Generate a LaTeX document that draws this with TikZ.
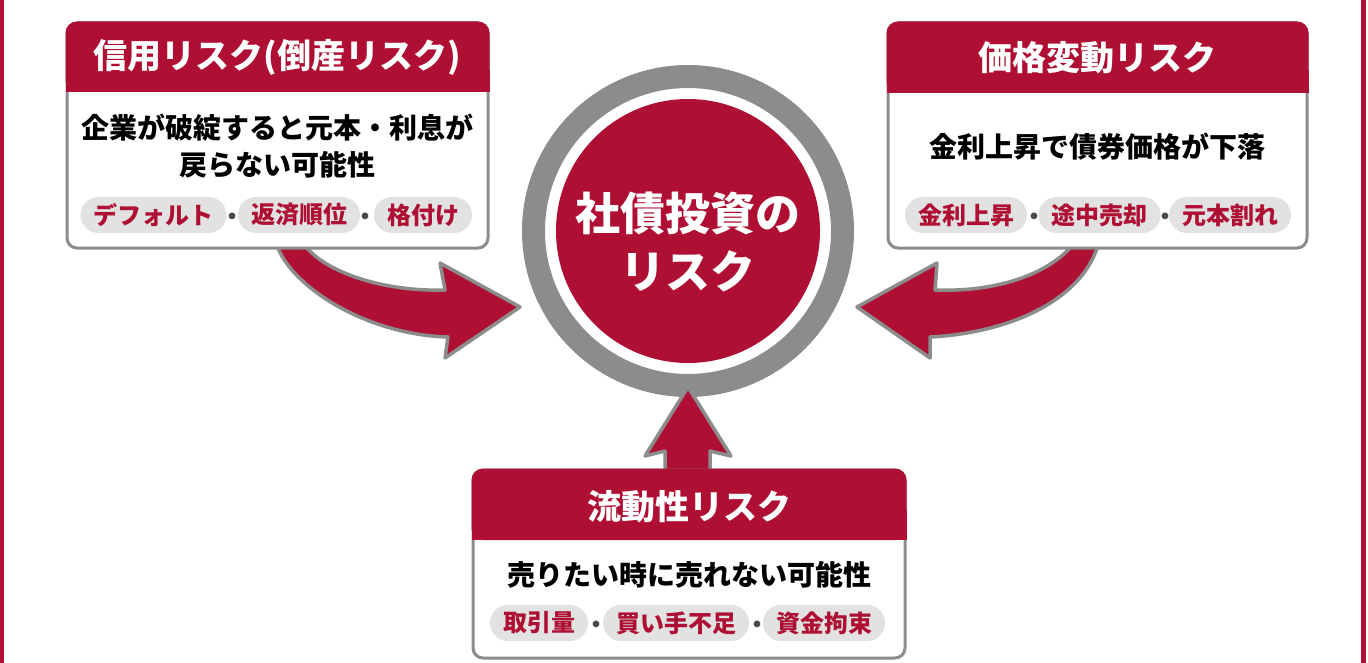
\documentclass[tikz,border=0pt]{standalone}
\usepackage{fontspec}
\setmainfont{Noto Sans CJK JP}
\usepackage{tikz}

\definecolor{riskred}{HTML}{AE0F32}
\definecolor{rimgray}{HTML}{8C8C8C}
\definecolor{pillgray}{HTML}{E2E2E2}
\definecolor{dotgray}{HTML}{4A4A4A}

\tikzset{
  card/.style={draw=rimgray,line width=3pt,fill=white,rounded corners=10pt,inner sep=0pt},
  headtext/.style={text=white,font=\fontsize{34}{40}\selectfont\bfseries},
  bodytext/.style={text=black,font=\fontsize{28}{37}\selectfont\bfseries,align=center},
  pill/.style={fill=pillgray,rounded corners=18pt,minimum height=36pt,inner xsep=13pt,inner ysep=0pt,text=riskred,font=\fontsize{24}{28}\selectfont\bfseries},
  middot/.style={text=dotgray,font=\fontsize{24}{28}\selectfont\bfseries,inner sep=0pt,yshift=-4pt},
  bigarrow/.style={fill=riskred,draw=rimgray,line width=3.5pt,line join=round},
}

\begin{document}
\begin{tikzpicture}[x=1pt,y=-1pt]
\useasboundingbox (0,0) rectangle (1368,663);
\fill[white] (0,0) rectangle (1368,663);
\fill[riskred] (0,0) rectangle (4,663);
\fill[riskred] (1361,0) rectangle (1366,663);

% centre
\node[circle,draw=rimgray,line width=23pt,minimum size=309pt,inner sep=0pt] (ring) at (688,231) {};
\node[circle,fill=riskred,minimum size=264pt,inner sep=0pt] (core) at (688,231) {};
\node[text=white,font=\fontsize{45}{58}\selectfont\bfseries,align=center] (coretext) at (688,242) {社債投資の\\リスク};

% arrows
\draw[bigarrow] (305,244) -- (307,248) .. controls (330,275) and (390,292) .. (445,290)
  -- (440,263) -- (520,307) -- (445,358) -- (448,337)
  .. controls (370,335) and (295,290) .. (278,248) -- (276,244) -- cycle;
\draw[bigarrow] (1071,244) -- (1070,248) .. controls (1040,280) and (985,292) .. (935,290)
  -- (937,263) -- (857,307) -- (930,358) -- (930,337)
  .. controls (1010,333) and (1080,300) .. (1097,248) -- (1098,244) -- cycle;
\draw[bigarrow] (665,480) -- (665,451) -- (645,456) -- (688,387) -- (731,456) -- (710,451) -- (710,480) -- cycle;

% credit risk
\node[card,minimum width=421pt,minimum height=225pt] (credit) at (277.5,135.5) {};
\fill[riskred,rounded corners=11.5pt] (65.5,21.5) rectangle (489.5,92);
\fill[riskred] (65.5,70) rectangle (489.5,92);
\node[headtext] (credit title) at (277.5,57) {信用リスク(倒産リスク)};
\node[bodytext] (credit text) at (277.5,146) {企業が破綻すると元本・利息が\\戻らない可能性};
\node[pill] (default) at (153.5,215) {デフォルト};
\node[middot] at (232,215) {・};
\node[pill] (seniority) at (299,215) {返済順位};
\node[middot] at (365,215) {・};
\node[pill] (rating) at (423,215) {格付け};

% price risk
\node[card,minimum width=419pt,minimum height=225pt] (price) at (1097.5,135.5) {};
\fill[riskred,rounded corners=11.5pt] (886.5,21.5) rectangle (1308.5,93);
\fill[riskred] (886.5,70) rectangle (1308.5,93);
\node[headtext] (price title) at (1097.5,58) {価格変動リスク};
\node[bodytext] (price text) at (1097.5,147) {金利上昇で債券価格が下落};
\node[pill] (rates) at (966,215) {金利上昇};
\node[middot] at (1034,215) {・};
\node[pill] (midsale) at (1099.5,215) {途中売却};
\node[middot] at (1165,215) {・};
\node[pill] (loss) at (1230,215) {元本割れ};

% liquidity risk
\node[card,minimum width=432pt,minimum height=188pt] (liquid) at (689,564) {};
\fill[riskred,rounded corners=11.5pt] (471.5,468.5) rectangle (906.5,540);
\fill[riskred] (471.5,510) rectangle (906.5,540);
\node[headtext] (liquid title) at (689,507) {流動性リスク};
\node[bodytext] (liquid text) at (689,575) {売りたい時に売れない可能性};
\node[pill] (volume) at (539,623) {取引量};
\node[middot] at (596,623) {・};
\node[pill] (buyers) at (676,623) {買い手不足};
\node[middot] at (757,623) {・};
\node[pill] (lockup) at (824,623) {資金拘束};
\end{tikzpicture}
\end{document}
